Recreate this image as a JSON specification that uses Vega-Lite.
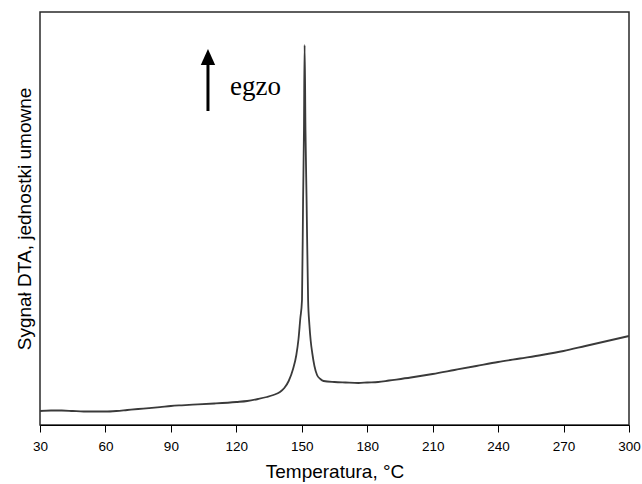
{
  "$schema": "https://vega.github.io/schema/vega-lite/v6.json",
  "width": 589,
  "height": 413,
  "autosize": {"type": "none"},
  "padding": {"left": 40, "top": 12, "right": 13, "bottom": 59},
  "background": "white",
  "config": {
    "view": {"stroke": "#2a2a2a", "strokeWidth": 1.5},
    "axis": {"grid": false, "labelFont": "Liberation Sans", "titleFont": "Liberation Sans", "labelColor": "#000", "titleColor": "#000", "titleFontWeight": "normal"}
  },
  "datasets": {
    "curve": [
      {"T": 30, "s": 14}, {"T": 35, "s": 14.5}, {"T": 40, "s": 14.5}, {"T": 45, "s": 14},
      {"T": 50, "s": 13.5}, {"T": 55, "s": 13.5}, {"T": 60, "s": 13.5}, {"T": 65, "s": 14},
      {"T": 70, "s": 15}, {"T": 75, "s": 16}, {"T": 80, "s": 16.8}, {"T": 85, "s": 17.8},
      {"T": 90, "s": 19}, {"T": 95, "s": 19.7}, {"T": 100, "s": 20.3}, {"T": 110, "s": 21.5},
      {"T": 120, "s": 23}, {"T": 125, "s": 24}, {"T": 130, "s": 26}, {"T": 134, "s": 28},
      {"T": 137, "s": 30}, {"T": 140, "s": 33}, {"T": 142, "s": 37}, {"T": 144, "s": 44},
      {"T": 146, "s": 56}, {"T": 147.5, "s": 70}, {"T": 148.5, "s": 86}, {"T": 149.3, "s": 106},
      {"T": 150.1, "s": 125}, {"T": 150.6, "s": 225}, {"T": 151.0, "s": 295}, {"T": 151.3, "s": 380},
      {"T": 151.7, "s": 295}, {"T": 152.2, "s": 225}, {"T": 152.9, "s": 125}, {"T": 153.5, "s": 100},
      {"T": 154.1, "s": 84}, {"T": 154.8, "s": 72}, {"T": 155.8, "s": 59}, {"T": 157, "s": 50},
      {"T": 158.5, "s": 46}, {"T": 160, "s": 44}, {"T": 165, "s": 43}, {"T": 170, "s": 42.5},
      {"T": 176, "s": 42}, {"T": 180, "s": 42.5}, {"T": 185, "s": 43}, {"T": 190, "s": 44.5},
      {"T": 200, "s": 47.5}, {"T": 210, "s": 51}, {"T": 220, "s": 55}, {"T": 230, "s": 59},
      {"T": 240, "s": 63}, {"T": 250, "s": 66.5}, {"T": 260, "s": 70}, {"T": 270, "s": 74},
      {"T": 280, "s": 79}, {"T": 290, "s": 84}, {"T": 300, "s": 89}
    ],
    "arrow": [{"T": 107.0, "s1": 314, "s2": 362, "head": 368}],
    "label": [{"T": 117.1, "s": 330, "text": "egzo"}]
  },
  "layer": [
    {
      "data": {"name": "curve"},
      "mark": {"type": "line", "color": "#3a3a3a", "strokeWidth": 1.8, "interpolate": "monotone"},
      "encoding": {
        "x": {"field": "T", "type": "quantitative", "scale": {"domain": [30, 300], "nice": false, "zero": false},
          "axis": {"values": [30, 60, 90, 120, 150, 180, 210, 240, 270, 300], "tickSize": 7, "tickColor": "#000", "domainColor": "#000", "labelFontSize": 13.5, "labelPadding": 7, "labelFlush": false, "labelOverlap": false, "labelBound": false, "title": "Temperatura, °C", "titleFontSize": 19, "titlePadding": 10}},
        "y": {"field": "s", "type": "quantitative", "scale": {"domain": [0, 413], "nice": false, "zero": false},
          "axis": {"labels": false, "ticks": false, "domain": false, "title": "Sygnał DTA, jednostki umowne", "titleFontSize": 19, "titlePadding": 6}}
      }
    },
    {
      "data": {"name": "arrow"},
      "mark": {"type": "rule", "color": "#000", "strokeWidth": 3},
      "encoding": {
        "x": {"field": "T", "type": "quantitative"},
        "y": {"field": "s1", "type": "quantitative"},
        "y2": {"field": "s2"}
      }
    },
    {
      "data": {"name": "arrow"},
      "mark": {"type": "point", "shape": "M0,-1L-0.9,1L0.9,1Z", "filled": true, "color": "#000", "size": 256, "opacity": 1},
      "encoding": {
        "x": {"field": "T", "type": "quantitative"},
        "y": {"field": "head", "type": "quantitative"}
      }
    },
    {
      "data": {"name": "label"},
      "mark": {"type": "text", "font": "Liberation Serif", "fontSize": 27, "align": "left", "baseline": "alphabetic", "color": "#000"},
      "encoding": {
        "x": {"field": "T", "type": "quantitative"},
        "y": {"field": "s", "type": "quantitative"},
        "text": {"field": "text"}
      }
    }
  ]
}
